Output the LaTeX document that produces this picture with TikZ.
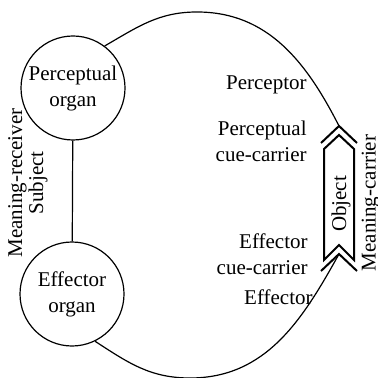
\documentclass[tikz,border=0pt]{standalone}
\usepackage{fontspec}
\setmainfont{Liberation Serif}
\usetikzlibrary{arrows.meta,calc,positioning}
\tikzset{organ/.style={draw,circle,line width=.6pt,minimum size=52pt,inner sep=0pt,align=center},
  rim/.style={line width=.6pt},objline/.style={line width=1pt,line join=miter},
  lbl/.style={anchor=east,align=right,inner sep=0pt}}

\begin{document}
\begin{tikzpicture}[x=.5pt,y=-.5pt,font=\fontsize{10.5}{13}\selectfont]
\useasboundingbox (0,0) rectangle (378,378);
% subject: two organs
\node[organ] (po) at (73,88) {Perceptual\\organ};\node[organ] (eo) at (72,294) {Effector\\organ};
\draw[rim] (po)--(eo);
\node[rotate=90,align=center,font=\fontsize{10.5}{10.5}\selectfont] (mr) at (28,183) {Meaning-receiver\\Subject};
% object with cue-carriers
\coordinate (ptip) at (339,126);\coordinate (etip) at (339,254);
\coordinate (top) at (197,12);\coordinate (bot) at (190,378);
\draw[objline] (324,149)--(339,135)--(354,149)--(354,260)--(339,245)--(324,260)--cycle;
\draw[objline] (321,143)--(ptip)--(357,143);\draw[objline] (321,271)--(etip)--(357,271);
\node[rotate=90] (obj) at (341,204) {Object};\node[rotate=90] (mc) at (371,203) {Meaning-carrier};
% functional circle
\draw[rim] (po.53) to[out=30,in=180] (top) to[out=0,in=117] (ptip);
\draw[rim] (eo.-64) to[out=-33,in=180] (bot) to[out=0,in=-119] (etip);
\node[lbl] (pr) at (307,85) {Perceptor};\node[lbl] (pc) at (307,141) {Perceptual\\cue-carrier};
\node[lbl] (ec) at (308,254) {Effector\\cue-carrier};\node[lbl] (ef) at (313,297) {Effector};
\end{tikzpicture}
\end{document}
